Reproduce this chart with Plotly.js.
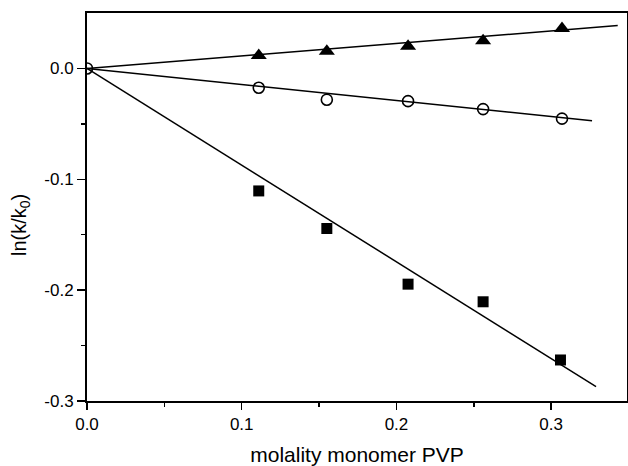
<!DOCTYPE html>
<html>
<head>
<meta charset="utf-8">
<script src="https://cdn.plot.ly/plotly-3.0.1.min.js"></script>
<style>html,body{margin:0;padding:0;background:#fff;}#chart{width:628px;height:466px;}</style>
</head>
<body>
<div id="chart"></div>
<script>
// Data
const triX = [0.111, 0.155, 0.2075, 0.256, 0.307];
const triY = [0.0117, 0.0156, 0.0200, 0.0250, 0.0360];
const circX = [0.0, 0.111, 0.155, 0.2075, 0.256, 0.307];
const circY = [0.0, -0.0174, -0.0282, -0.0295, -0.0367, -0.0453];
const sqX = [0.111, 0.155, 0.2075, 0.256, 0.306];
const sqY = [-0.1105, -0.1444, -0.1946, -0.2105, -0.2630];

// Fitted lines (end points)
const triFitX = [0.0, 0.343];
const triFitY = [0.0, 0.0387];
const circFitX = [0.0, 0.3264];
const circFitY = [0.0, -0.0471];
const sqFitX = [0.0, 0.329];
const sqFitY = [0.0, -0.287];

const xTickVals = [0.0, 0.1, 0.2, 0.3];
const xTickText = ['0.0', '0.1', '0.2', '0.3'];
const yTickVals = [0.0, -0.1, -0.2, -0.3];
const yTickText = ['0.0', '-0.1', '-0.2', '-0.3'];
const xMinor = [0.05, 0.15, 0.25];
const yMinor = [-0.05, -0.15, -0.25];

const lineStyle = {color: '#000', width: 1.5};
const traces = [
  {x: triFitX, y: triFitY, mode: 'lines', line: lineStyle, hoverinfo: 'skip'},
  {x: circFitX, y: circFitY, mode: 'lines', line: lineStyle, hoverinfo: 'skip'},
  {x: sqFitX, y: sqFitY, mode: 'lines', line: lineStyle, hoverinfo: 'skip'},
  {x: triX, y: triY, mode: 'markers', marker: {symbol: 'triangle-up', size: 14, color: '#000'}},
  {x: sqX, y: sqY, mode: 'markers', marker: {symbol: 'square', size: 11, color: '#000'}},
  {x: circX, y: circY, mode: 'markers', marker: {symbol: 'circle-open', size: 11, color: '#000', line: {width: 1.6, color: '#000'}}}
];

const font = 'Liberation Sans, Arial, sans-serif';
const layout = {
  width: 628, height: 466,
  margin: {l: 87, r: 1, t: 13, b: 65},
  showlegend: false,
  paper_bgcolor: '#fff', plot_bgcolor: '#fff',
  font: {family: font, color: '#000', size: 17},
  xaxis: {
    range: [0, 0.349], tickmode: 'array', tickvals: xTickVals, ticktext: xTickText,
    ticks: 'outside', ticklen: 7, tickwidth: 1.5, tickcolor: '#000',
    showline: true, linewidth: 2, linecolor: '#000', mirror: true,
    showgrid: false, zeroline: false,
    tickfont: {size: 17, family: font},
    minor: {tickmode: 'array', tickvals: xMinor, ticks: 'outside', ticklen: 4, tickwidth: 1.5, tickcolor: '#000', showgrid: false},
    title: {text: 'molality monomer PVP', font: {size: 21, family: font}, standoff: 18}
  },
  yaxis: {
    range: [-0.3, 0.05], tickmode: 'array', tickvals: yTickVals, ticktext: yTickText,
    ticks: 'outside', ticklen: 8, tickwidth: 1.5, tickcolor: '#000',
    showline: true, linewidth: 2, linecolor: '#000', mirror: true,
    showgrid: false, zeroline: false,
    tickfont: {size: 17, family: font},
    minor: {tickmode: 'array', tickvals: yMinor, ticks: 'outside', ticklen: 4, tickwidth: 1.5, tickcolor: '#000', showgrid: false}
  },
  annotations: [{
    text: 'ln(k/k<sub>0</sub>)', xref: 'paper', yref: 'paper', x: -0.124, y: 0.4536,
    xanchor: 'center', yanchor: 'middle', textangle: -90, showarrow: false,
    font: {size: 20, family: font, color: '#000'}
  }]
};

Plotly.newPlot('chart', traces, layout, {staticPlot: true, displayModeBar: false});
</script>
</body>
</html>
